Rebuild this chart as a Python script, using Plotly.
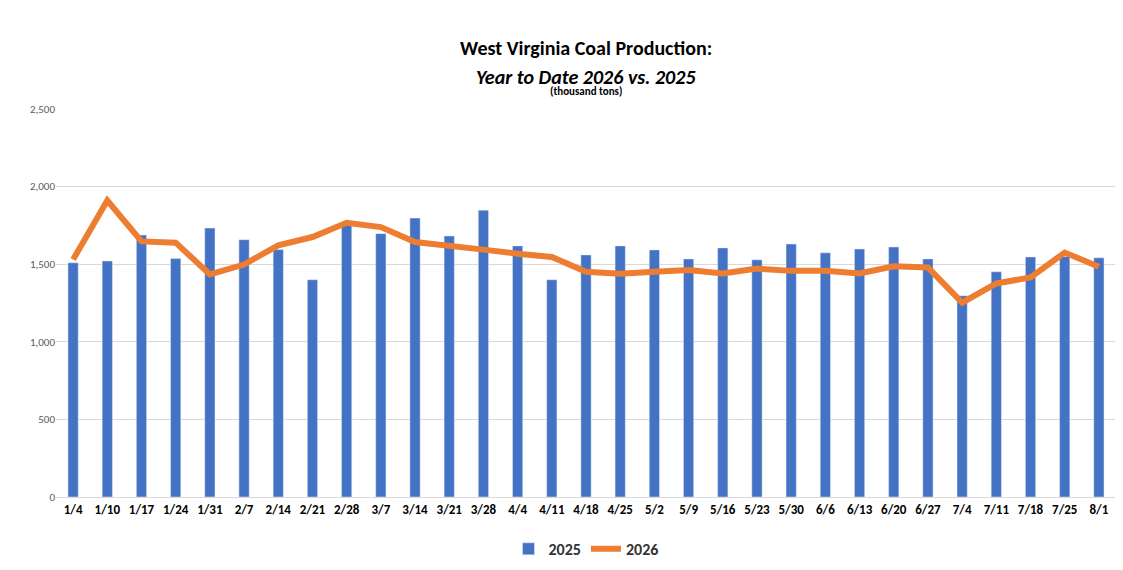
import plotly.graph_objects as go

weeks = ['1/4','1/10','1/17','1/24','1/31','2/7','2/14','2/21','2/28','3/7','3/14','3/21','3/28',
         '4/4','4/11','4/18','4/25','5/2','5/9','5/16','5/23','5/30','6/6','6/13','6/20','6/27',
         '7/4','7/11','7/18','7/25','8/1']
prod_2025 = [1509,1521,1688,1536,1733,1658,1594,1400,1750,1697,1797,1682,1848,1618,1400,
             1560,1618,1592,1534,1605,1528,1630,1573,1598,1611,1534,1297,1451,1547,1550,1541]
prod_2026 = [1530,1910,1647,1639,1434,1498,1622,1675,1767,1739,1643,1622,1594,1568,1547,
             1451,1438,1451,1462,1440,1472,1457,1457,1440,1487,1479,1252,1376,1415,1575,1483]

fig = go.Figure()
fig.add_trace(go.Bar(x=weeks, y=prod_2025, name='<b>2025</b>', marker_color='#4472C4'))
fig.add_trace(go.Scatter(x=weeks, y=prod_2026, name='<b>2026</b>', mode='lines',
                         line=dict(color='#ED7D31', width=6)))

title_font = dict(family='Calibri, Carlito, Liberation Sans, sans-serif', color='black')
fig.add_annotation(text='<b>West Virginia Coal Production:</b>', xref='paper', yref='paper',
                   x=0.5, y=1.0, yshift=75, showarrow=False, font=dict(size=20, **title_font))
fig.add_annotation(text='<b><i>Year to Date 2026 vs. 2025</i></b>', xref='paper', yref='paper',
                   x=0.5, y=1.0, yshift=46, showarrow=False, font=dict(size=20, **title_font))
fig.add_annotation(text='<b>(thousand tons)</b>', xref='paper', yref='paper',
                   x=0.5, y=1.0, yshift=26, showarrow=False, font=dict(size=11, **title_font))

fig.update_layout(
    width=1123, height=570,
    paper_bgcolor='white', plot_bgcolor='white',
    font=dict(family='Calibri, Carlito, Liberation Sans, sans-serif', color='#595959'),
    margin=dict(l=48, r=15, t=101, b=79),
    bargap=0.7,
    showlegend=True,
    legend=dict(orientation='h', x=0.5, xanchor='center', y=-0.09, yanchor='top',
                font=dict(size=16, color='#333333')),
)
fig.update_yaxes(range=[0, 2500], dtick=500, tickformat=',', gridcolor='#D9D9D9',
                 tickfont=dict(size=11), zeroline=False, showline=False)
fig.update_xaxes(tickfont=dict(size=13, color='black', weight='bold'), tickangle=0,
                 showline=True, linecolor='#D9D9D9')

fig.write_html('out.html')
